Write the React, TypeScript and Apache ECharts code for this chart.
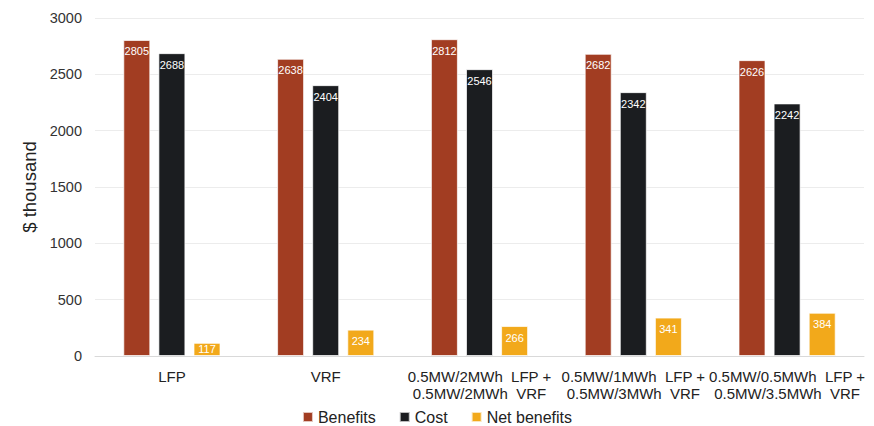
import React, { useEffect, useRef } from "react";
import * as echarts from "echarts";

const categories = [
  "LFP",
  "VRF",
  "0.5MW/2MWh  LFP +\n0.5MW/2MWh  VRF",
  "0.5MW/1MWh  LFP +\n0.5MW/3MWh  VRF",
  "0.5MW/0.5MWh  LFP +\n0.5MW/3.5MWh  VRF",
];
const benefits = [2805, 2638, 2812, 2682, 2626];
const cost = [2688, 2404, 2546, 2342, 2242];
const netBenefits = [117, 234, 266, 341, 384];
const yTicks = { min: 0, max: 3000, interval: 500 };

const FONT = "Liberation Sans, Arial, sans-serif";

export default function App() {
  const ref = useRef<HTMLDivElement>(null);
  useEffect(() => {
    document.body.style.margin = "0";
    if (!ref.current) return;
    const chart = echarts.init(ref.current, undefined, { renderer: "svg" });
    const label = {
      show: true,
      position: "insideTop",
      distance: 6,
      color: "#ffffff",
      fontSize: 11,
      fontFamily: FONT,
    };
    const mk = (name: string, data: any[], color: string) => ({
      name,
      type: "bar",
      data,
      barWidth: 27,
      barGap: "30%",
      itemStyle: { color, borderColor: "rgba(255,255,255,0.7)", borderWidth: 1 },
      label,
    });
    const netData = netBenefits.map((v, i) =>
      i === 0 ? { value: v, label: { position: "inside" } } : v
    );
    chart.setOption({
      animation: false,
      textStyle: { fontFamily: FONT },
      grid: { left: 95, right: 10, top: 18, bottom: 70 },
      legend: {
        top: 409,
        padding: 0,
        left: "center",
        itemWidth: 10,
        itemHeight: 10,
        itemGap: 23,
        icon: "rect",
        textStyle: { fontSize: 16, color: "#222", fontFamily: FONT },
        data: ["Benefits", "Cost", "Net benefits"],
      },
      xAxis: {
        type: "category",
        data: categories,
        axisTick: { show: false },
        axisLine: { lineStyle: { color: "#d9d9d9" } },
        axisLabel: {
          interval: 0,
          fontSize: 15,
          color: "#222",
          fontFamily: FONT,
          margin: 12,
          lineHeight: 17,
        },
      },
      yAxis: {
        type: "value",
        min: yTicks.min,
        max: yTicks.max,
        interval: yTicks.interval,
        name: "$ thousand",
        nameLocation: "middle",
        nameGap: 28,
        nameTextStyle: { fontSize: 18.5, color: "#222", fontFamily: FONT },
        axisLine: { show: false },
        axisTick: { show: false },
        axisLabel: {
          fontSize: 14.5,
          color: "#333",
          fontFamily: FONT,
          margin: 13,
          formatter: (v: number) => String(v),
        },
        splitLine: { lineStyle: { color: "#ececec" } },
      },
      series: [
        mk("Benefits", benefits, "#a23d22"),
        mk("Cost", cost, "#1b1d20"),
        mk("Net benefits", netData, "#f2a91b"),
      ],
    });
    return () => chart.dispose();
  }, []);
  return <div ref={ref} style={{ width: 874, height: 426 }} />;
}
